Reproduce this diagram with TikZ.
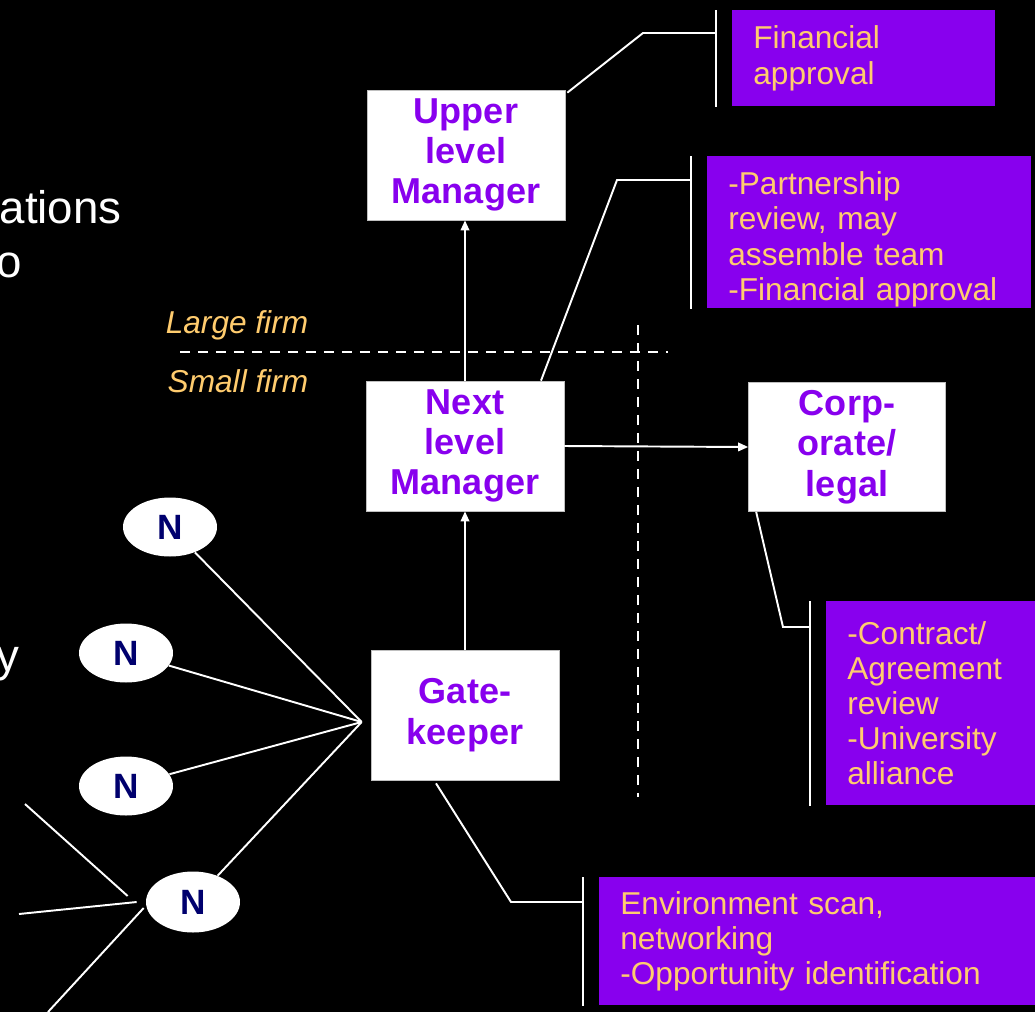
\documentclass[tikz,border=0pt]{standalone}
\usepackage{fontspec}
\setmainfont{Liberation Sans}
\usepackage{xcolor}
\definecolor{boxpurple}{RGB}{136, 0, 238}
\definecolor{notepeach}{RGB}{255, 204, 110}
\definecolor{nodenavy}{RGB}{0, 0, 110}
\usetikzlibrary{shapes, arrows.meta, positioning, calc}

\begin{document}
\begin{tikzpicture}[
    x=0.02cm, y=-0.02cm,
    level/.style={rectangle, draw=white!75!black, fill=white, minimum width=3.96cm, minimum height=2.6cm, inner sep=0pt, align=center, text=boxpurple, font=\fontsize{20.5}{23}\selectfont\bfseries},
    contact/.style={ellipse, fill=white, minimum width=1.88cm, minimum height=1.18cm, inner sep=0pt, text=nodenavy, font=\fontsize{20}{24}\selectfont\bfseries},
    note/.style={rectangle, fill=boxpurple, anchor=north west, align=left, inner xsep=0.42cm, inner ysep=0pt, text=notepeach, font=\fontsize{18}{20}\selectfont},
    link/.style={draw=white, line width=1.1pt},
    flow/.style={link, -{Triangle[length=0.2cm, width=0.17cm]}},
    split/.style={draw=white, line width=1.2pt, dash pattern=on 0.2cm off 0.16cm},
    firm/.style={text=notepeach, font=\fontsize{18}{20}\selectfont\itshape},
    cutoff/.style={anchor=base east, inner sep=0pt, text=white, font=\fontsize{26}{30}\selectfont}
]
    % Background
    \fill[black] (0,0) rectangle (1035,1012);
    \useasboundingbox (0,0) rectangle (1035,1012);

    % Cut-off text on the left
    \node[cutoff] (txta) at (122,223) {ations};
    \node[cutoff] (txtb) at (22,277) {o};
    \node[cutoff] (txtc) at (20,671) {y};

    % Management chain
    \node[level] (upper) at (466,155) {Upper\\level\\Manager};
    \node[level] (next) at (465,446) {Next\\level\\Manager};
    \node[level, minimum width=3.76cm] (gate) at (465,715) {Gate-\\keeper};
    \node[level, minimum width=3.94cm, minimum height=2.58cm] (corp) at (847,447) {Corp-\\orate/\\legal};

    % Contacts
    \node[contact] (n1) at (170,527) {N};
    \node[contact] (n2) at (126,653) {N};
    \node[contact] (n3) at (126,786) {N};
    \node[contact, minimum height=1.22cm] (n4) at (193,902) {N};

    % Firm size split
    \draw[split] (180,352) -- (668,352);
    \draw[split] (638,325) -- (638,797);
    \node[firm] (large) at (237,325) {Large firm};
    \node[firm] (small) at (238,381) {Small firm};

    % Notes
    \node[note, minimum width=5.26cm, minimum height=1.92cm, text width=4.42cm] (fin) at (732,10) {Financial\\approval};
    \node[note, minimum width=6.48cm, minimum height=3.04cm, text width=5.64cm] (partner) at (707,156) {\rule{0pt}{21pt}-Partnership\\review, may\\assemble team\\-Financial approval};
    \node[note, minimum width=4.3cm, minimum height=4.08cm, text width=3.46cm] (contract) at (826,601) {-Contract/\\Agreement\\review\\-University\\alliance};
    \node[note, minimum width=8.9cm, minimum height=2.56cm, text width=8.06cm] (scan) at (599,877) {Environment scan,\\networking\\-Opportunity identification};

    % Note brackets
    \draw[link] ([xshift=-0.32cm]fin.north west) coordinate (finbar) -- ([xshift=-0.32cm]fin.south west);
    \draw[link] ([xshift=-0.32cm]partner.north west) coordinate (partbar) -- ([xshift=-0.32cm]partner.south west);
    \draw[link] ([xshift=-0.32cm]contract.north west) coordinate (contbar) -- ([xshift=-0.32cm]contract.south west);
    \draw[link] ([xshift=-0.32cm]scan.north west) coordinate (scanbar) -- ([xshift=-0.32cm]scan.south west);

    % Note connectors
    \draw[link] ([shift={(2,3)}]upper.north east) -- (643,33) -- (finbar |- 0,33);
    \draw[link] ([xshift=1.52cm]next.north) -- (617,180) -- (partbar |- 0,180);
    \draw[link] ([xshift=0.16cm]corp.south west) -- (783,627) -- (contbar |- 0,627);
    \draw[link] ([shift={(-29,3)}]gate.south) -- (511,902) -- (scanbar |- 0,902);

    % Reporting arrows
    \draw[flow] (gate.north) -- (next.south);
    \draw[flow] (next.north) -- (next.north |- upper.south);
    \draw[flow] (next.east) -- (corp.west);

    % Contacts to gatekeeper
    \coordinate (hub) at ($(gate.west)+(-9,7)$);
    \foreach \n in {n1, n2, n3, n4}
        \draw[link] (\n) -- (hub);

    % Loose ends into the last contact
    \coordinate (in1) at (25,804);
    \coordinate (in2) at (19,914);
    \coordinate (in3) at (48,1012);
    \draw[link] (in1) -- ([shift={(-18,-6)}]n4.west);
    \draw[link] (in2) -- ([shift={(-9,0)}]n4.west);
    \draw[link] (in3) -- ([shift={(-2,6)}]n4.west);

\end{tikzpicture}
\end{document}
